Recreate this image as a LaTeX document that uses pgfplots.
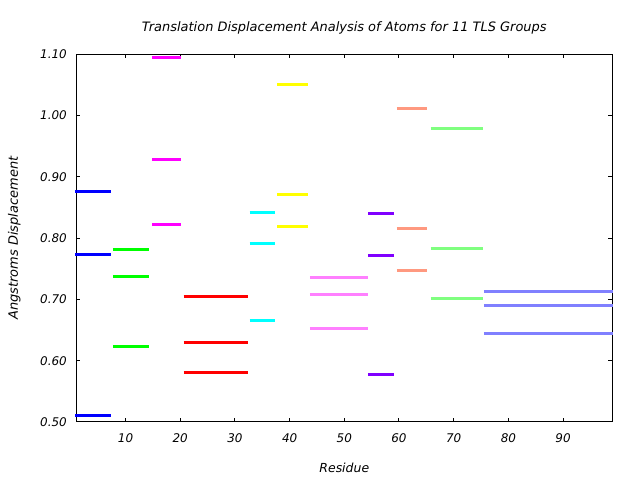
\documentclass[border=0pt]{standalone}
\usepackage{pgfplots}
\pgfplotsset{compat=1.18}
\usepackage{fontspec}
\setmainfont{DejaVu Sans}
\definecolor{g1}{HTML}{0000FF}
\definecolor{g2}{HTML}{00FF00}
\definecolor{g3}{HTML}{FF00FF}
\definecolor{g4}{HTML}{FF0000}
\definecolor{g5}{HTML}{00FFFF}
\definecolor{g6}{HTML}{FFFF00}
\definecolor{g7}{HTML}{FF80FF}
\definecolor{g8}{HTML}{8000FF}
\definecolor{g9}{HTML}{FF9980}
\definecolor{g10}{HTML}{80FF80}
\definecolor{g11}{HTML}{8080FF}
\begin{document}
\begin{tikzpicture}[x=1bp,y=1bp]
\useasboundingbox (-76.3,-58) rectangle (563.7,422);
\begin{axis}[
  at={(0,0)}, anchor=south west,
  scale only axis,
  width=536bp, height=367.7bp,
  xmin=1, xmax=99, ymin=0.5, ymax=1.1,
  xtick={10,20,...,90},
  ytick={0.5,0.6,...,1.1},
  y tick label style={/pgf/number format/fixed, /pgf/number format/fixed zerofill, /pgf/number format/precision=2},
  /pgf/number format/assume math mode=true,
  tick label style={font=\fontsize{12}{14}\selectfont\itshape},
  xticklabel style={yshift=-8bp},
  yticklabel style={xshift=-6bp},
  tick align=inside,
  major tick length=4bp,
  tick style={line width=1bp, black},
  axis line style={line width=1bp},
  clip=false,
  unbounded coords=jump,
  title={Translation Displacement Analysis of Atoms for 11 TLS Groups},
  title style={font=\fontsize{13}{15}\selectfont\itshape, at={(axis description cs:0.5,1)}, anchor=center, yshift=20bp},
  xlabel={Residue},
  xlabel style={font=\fontsize{12.5}{15}\selectfont\itshape, at={(axis description cs:0.5,0)}, anchor=center, yshift=-45.7bp},
  ylabel={Angstroms Displacement},
  ylabel style={font=\fontsize{13}{15}\selectfont\itshape, at={(axis description cs:0,0.5)}, anchor=center, yshift=62bp},
  every axis plot/.append style={line width=3bp, mark=none},
]
\addplot[g1] coordinates {(0.8,0.876)(7.3,0.876)(7.3,nan)(0.8,0.774)(7.3,0.774)(7.3,nan)(0.8,0.511)(7.3,0.511)};
\addplot[g2] coordinates {(7.7,0.782)(14.3,0.782)(14.3,nan)(7.7,0.737)(14.3,0.737)(14.3,nan)(7.7,0.624)(14.3,0.624)};
\addplot[g3] coordinates {(14.9,1.095)(20.2,1.095)(20.2,nan)(14.9,0.929)(20.2,0.929)(20.2,nan)(14.9,0.823)(20.2,0.823)};
\addplot[g4] coordinates {(20.6,0.704)(32.4,0.704)(32.4,nan)(20.6,0.630)(32.4,0.630)(32.4,nan)(20.6,0.580)(32.4,0.580)};
\addplot[g5] coordinates {(32.7,0.842)(37.3,0.842)(37.3,nan)(32.7,0.792)(37.3,0.792)(37.3,nan)(32.7,0.666)(37.3,0.666)};
\addplot[g6] coordinates {(37.7,1.051)(43.3,1.051)(43.3,nan)(37.7,0.872)(43.3,0.872)(43.3,nan)(37.7,0.819)(43.3,0.819)};
\addplot[g7] coordinates {(43.7,0.736)(54.3,0.736)(54.3,nan)(43.7,0.708)(54.3,0.708)(54.3,nan)(43.7,0.653)(54.3,0.653)};
\addplot[g8] coordinates {(54.4,0.841)(59.0,0.841)(59.0,nan)(54.4,0.772)(59.0,0.772)(59.0,nan)(54.4,0.578)(59.0,0.578)};
\addplot[g9] coordinates {(59.6,1.012)(65.1,1.012)(65.1,nan)(59.6,0.815)(65.1,0.815)(65.1,nan)(59.6,0.748)(65.1,0.748)};
\addplot[g10] coordinates {(65.8,0.979)(75.3,0.979)(75.3,nan)(65.8,0.783)(75.3,0.783)(75.3,nan)(65.8,0.702)(75.3,0.702)};
\addplot[g11] coordinates {(75.5,0.713)(99.2,0.713)(99.2,nan)(75.5,0.690)(99.2,0.690)(99.2,nan)(75.5,0.645)(99.2,0.645)};
\end{axis}
\end{tikzpicture}
\end{document}
